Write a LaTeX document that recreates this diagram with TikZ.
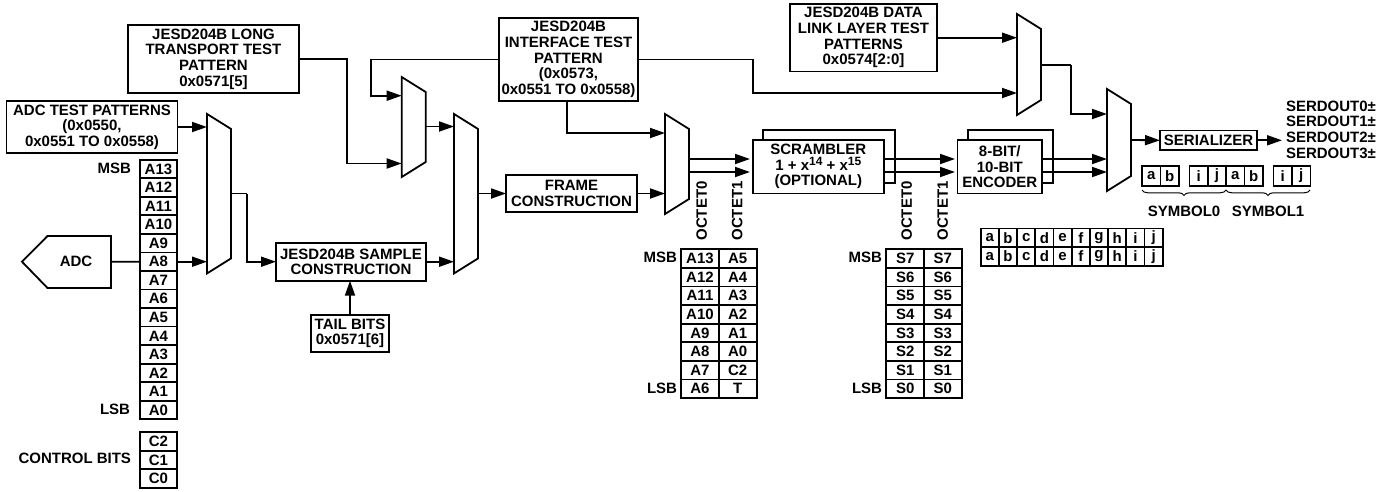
\documentclass[tikz,border=0pt]{standalone}
\usepackage{fontspec}
\setmainfont{Liberation Sans}
\usetikzlibrary{arrows.meta,calc,decorations.pathreplacing}
\newcommand{\supnum}[1]{\raisebox{5pt}{\fontsize{12}{12}\selectfont #1}}
\tikzset{
  lbl/.style={font=\fontsize{15}{15.6}\selectfont\bfseries,align=center,inner sep=0pt,outer sep=0pt},
  blockbox/.style={lbl,draw,line width=1.8pt,fill=white},
  bitcell/.style={blockbox,minimum width=#1,minimum height=18.6pt},
  bitcell/.default=37pt,
  muxbox/.style={inner sep=0pt,outer sep=0pt,minimum width=24pt},
  wire/.style={line width=1.8pt,line join=miter},
  flow/.style={wire,-{Triangle[length=15pt,width=10pt]}},
}
\begin{document}
\begin{tikzpicture}[x=1pt,y=-1pt,line width=1.8pt]
\useasboundingbox (0,0) rectangle (1390,491);
% text boxes
\node[blockbox,minimum width=171pt,minimum height=68pt] (longtp) at (213.5,59) {JESD204B LONG\\TRANSPORT TEST\\PATTERN\\0x0571[5]};
\node[blockbox,minimum width=171pt,minimum height=52pt] (adctp) at (92,127) {ADC TEST PATTERNS\\(0x0550,\\0x0551 TO 0x0558)};
\node[blockbox,minimum width=139pt,minimum height=83pt] (iftp) at (568.5,59.5) {JESD204B\\INTERFACE TEST\\PATTERN\\(0x0573,\\0x0551 TO 0x0558)};
\node[blockbox,minimum width=147pt,minimum height=67.5pt] (dltp) at (863.5,37.7) {JESD204B DATA\\LINK LAYER TEST\\PATTERNS\\0x0574[2:0]};
\node[blockbox,minimum width=150pt,minimum height=38pt] (sample) at (351,261.7) {JESD204B SAMPLE\\CONSTRUCTION};
\node[blockbox,minimum width=78pt,minimum height=37pt] (tail) at (350,333.5) {TAIL BITS\\0x0571[6]};
\node[blockbox,minimum width=131pt,minimum height=37pt] (frame) at (571.5,193.5) {FRAME\\CONSTRUCTION};
\node[blockbox,minimum width=132pt,minimum height=53pt] (scrback) at (829,156.7) {};
\node[blockbox,minimum width=131pt,minimum height=53.5pt] (scr) at (818.3,166.7) {SCRAMBLER\\1 + x\supnum{14} + x\supnum{15}\\(OPTIONAL)};
\node[blockbox,minimum width=85pt,minimum height=53pt] (encback) at (1010.5,156.7) {};
\node[blockbox,minimum width=84.5pt,minimum height=53.5pt] (enc) at (999.8,166.7) {8-BIT/\\10-BIT\\ENCODER};
\node[blockbox,minimum width=97pt,minimum height=19.5pt] (ser) at (1208.5,140.3) {SERIALIZER};
\node[lbl] (adc) at (76,261.5) {ADC};
\node[lbl,anchor=west,align=left] (serdout) at (1286,129.5) {SERDOUT0±\\SERDOUT1±\\SERDOUT2±\\SERDOUT3±};
% ADC outline
\draw[wire] (22,261.7)--(47.5,236)--(111,236)--(111,288)--(47.5,288)--cycle;
\coordinate (adcout) at (111,261.7);
% muxes
\node[muxbox,minimum height=159.5pt] (muxa) at (219,193.7) {};
\node[muxbox,minimum height=100pt] (muxb) at (413.7,127) {};
\node[muxbox,minimum height=159.5pt] (muxc) at (466,193.7) {};
\node[muxbox,minimum height=100pt] (muxd) at (677,164) {};
\node[muxbox,minimum height=101pt] (muxe) at (1029,64.5) {};
\node[muxbox,minimum height=102pt] (muxf) at (1119,140) {};
\foreach \m in {muxa,muxb,muxc,muxd,muxe,muxf}
  \draw[wire] (\m.north west)--($(\m.north east)+(0,15)$)--($(\m.south east)+(0,-15)$)--(\m.south west)--cycle;
% bit columns
\foreach \t [count=\n from 0] in {A13,A12,A11,A10,A9,A8,A7,A6,A5,A4,A3,A2,A1,A0}
  \node[bitcell] (\t) at (158.5,169+18.54*\n) {\t};
\foreach \t [count=\n from 0] in {C2,C1,C0}
  \node[bitcell] (\t) at (158.5,441.3+18.6*\n) {\t};
\node[lbl,anchor=east] (msba) at (131,168) {MSB};
\node[lbl,anchor=east] (lsba) at (130,409) {LSB};
\node[lbl,anchor=east] (ctrl) at (131,458) {CONTROL BITS};
\foreach \p/\q [count=\n from 0] in {A13/A5,A12/A4,A11/A3,A10/A2,A9/A1,A8/A0,A7/C2,A6/T}{
  \node[bitcell=38pt] (oa\n) at (700,258.6+18.6*\n) {\p};
  \node[bitcell=38pt] (ob\n) at (737.7,258.6+18.6*\n) {\q};
}
\foreach \n in {0,...,7}{
  \pgfmathtruncatemacro{\s}{7-\n}
  \node[bitcell=38pt] (sa\n) at (905.3,258.6+18.6*\n) {S\s};
  \node[bitcell=38pt] (sb\n) at (942.7,258.6+18.6*\n) {S\s};
}
\node[lbl,anchor=east] (msbb) at (677,257.6) {MSB};
\node[lbl,anchor=east] (lsbb) at (677,388) {LSB};
\node[lbl,anchor=east] (msbc) at (882,257.6) {MSB};
\node[lbl,anchor=east] (lsbc) at (882,388) {LSB};
\foreach \x/\t/\nm in {701.7/OCTET0/ocaa,737.3/OCTET1/ocab,906.7/OCTET0/ocba,942.7/OCTET1/ocbb}
  \node[lbl,rotate=90,anchor=west] (\nm) at (\x,240.5) {\t};
% symbol cells
\foreach \t [count=\n from 0] in {a,b,c,d,e,f,g,h,i,j}{
  \node[bitcell=18.2pt] (ta\t) at (989.8+18.2*\n,237.7) {\t};
  \node[bitcell=18.2pt] (tb\t) at (989.8+18.2*\n,256.5) {\t};
}
\foreach \x/\t/\nm in {1151.2/a/ya,1169.7/b/yb,1198.7/i/yi,1217/j/yj,1235.2/a/za,1253.8/b/zb,1282.8/i/zi,1301.2/j/zj}
  \node[bitcell=18.5pt,minimum height=19.6pt] (\nm) at (\x,175.8) {\t};
\draw[line width=1pt,decorate,decoration={brace,mirror,amplitude=5.5pt}] (1142,190)--(1226,190);
\draw[line width=1pt,decorate,decoration={brace,mirror,amplitude=5.5pt}] (1226,190)--(1310,190);
\node[lbl] (syma) at (1184,211) {SYMBOL0};
\node[lbl] (symb) at (1268,211) {SYMBOL1};
% connectors
\coordinate (inba) at (401.7,95.7);
\coordinate (inbb) at (401.7,163.5);
\coordinate (outa) at (247,193.5);
\coordinate (ine) at (1017,93);
\coordinate (outf) at (1071,65);
\draw[wire] (adcout)--(A8.west);
\draw[flow] (A8.east)--(muxa.west |- A8.east);
\draw[flow] (adctp.east)--(muxa.west |- adctp.east);
\draw[wire] (muxa.east |- outa)--(outa);
\draw[flow] (outa) |- (sample.west);
\draw[flow] (tail.north)--(tail.north |- sample.south);
\draw[flow] (sample.east)--(muxc.west |- sample.east);
\draw[flow] (longtp.east) -| (347,163.5)--(inbb);
\draw[flow] (iftp.west) -| (371,95.7)--(inba);
\draw[flow] (muxb.east |- 0,126.5)--(muxc.west |- 0,126.5);
\draw[flow] (muxc.east |- frame.west)--(frame.west);
\draw[flow] (frame.east)--(muxd.west |- frame.east);
\draw[flow] (iftp.south -| 567,0)--(567,133)--(muxd.west |- 0,133);
\draw[flow] (iftp.east) -| (753,93)--(ine);
\draw[flow] (dltp.east)--(muxe.west |- dltp.east);
\draw[wire] (muxe.east |- outf)--(outf);
\draw[flow] (outf) |- (muxf.west |- 0,114);
\foreach \y in {159,172}{
  \draw[flow] (muxd.east |- 0,\y)--(750,\y);
  \draw[flow] (scr.east |- 0,\y)--(955,\y);
  \draw[flow] (enc.east |- 0,\y)--(muxf.west |- 0,\y);
}
\draw[flow] (muxf.east)--(ser.west);
\draw[flow] (ser.east)--(1282,140.3);
\end{tikzpicture}
\end{document}
